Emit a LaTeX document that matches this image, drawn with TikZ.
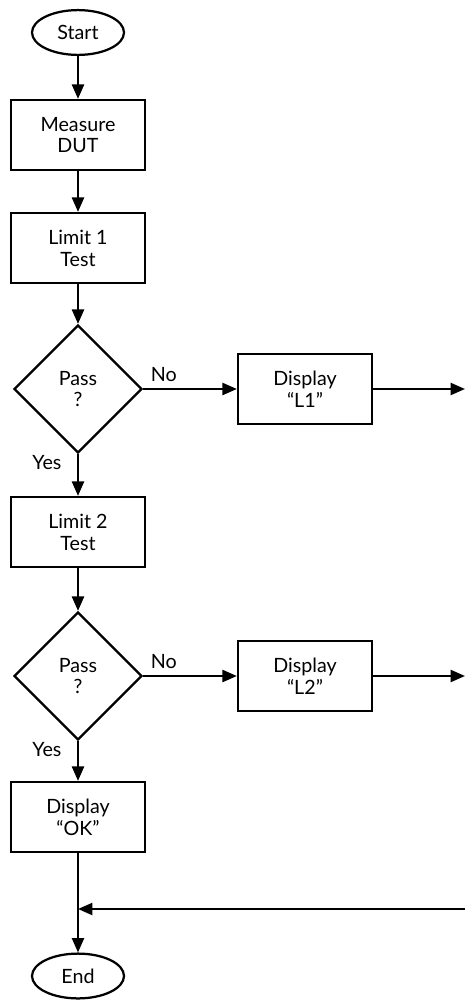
\documentclass[tikz,border=0pt]{standalone}
\usepackage{fontspec}
\setmainfont{Lato}
\usetikzlibrary{arrows.meta, positioning, shapes.geometric}

\begin{document}
\begin{tikzpicture}[x=0.025cm, y=-0.025cm, font=\fontsize{14}{15.6}\selectfont,
  s/.style={draw, line width=1.6pt, align=center, inner sep=0pt,
            minimum width=3.35cm, minimum height=1.75cm},
  term/.style={draw, ellipse, line width=1.6pt, inner sep=0pt,
            minimum width=2.3cm, minimum height=1.12cm},
  dec/.style={draw, diamond, aspect=1, line width=1.6pt, align=center, inner sep=0pt,
            minimum width=3.2cm, minimum height=3.2cm},
  a/.style={-{Triangle[length=3.6mm, width=3mm]}, line width=1.6pt, draw=black},
  lb/.style={inner sep=1pt}]
  \useasboundingbox (0,0) rectangle (465,1000);
  % ---- main column
  \node[term] (start) at (78,32.5) {Start};
  \node[s]    (meas)  at (78,135)  {Measure\\DUT};
  \node[s]    (lim1)  at (78,248)  {Limit 1\\Test};
  \node[dec]  (pass1) at (78,389)  {Pass\\?};
  \node[s]    (lim2)  at (78,532)  {Limit 2\\Test};
  \node[dec]  (pass2) at (78,676)  {Pass\\?};
  \node[s]    (ok)    at (78,817)  {Display\\“OK”};
  \node[term] (end)   at (78,976)  {End};
  % ---- failure branches
  \node[s] (disp1) at (305,389) {Display\\“L1”};
  \node[s] (disp2) at (305,676) {Display\\“L2”};
  \coordinate (out1) at (465,389);
  \coordinate (out2) at (465,676);
  \coordinate (back) at (465,909);
  % ---- connectors
  \draw[a] (start) -- (meas);
  \draw[a] (meas) -- (lim1);
  \draw[a] (lim1) -- (pass1);
  \draw[a] (pass1) -- node[lb, pos=0.2, left=0.35cm] {Yes} (lim2);
  \draw[a] (pass1) -- node[lb, pos=0.22, above=0.12cm] {No} (disp1);
  \draw[a] (disp1) -- (out1);
  \draw[a] (lim2) -- (pass2);
  \draw[a] (pass2) -- node[lb, pos=0.2, left=0.35cm] {Yes} (ok);
  \draw[a] (pass2) -- node[lb, pos=0.22, above=0.12cm] {No} (disp2);
  \draw[a] (disp2) -- (out2);
  \draw[a] (ok) -- (end);
  \draw[a] (back) -- (back -| ok.south);
\end{tikzpicture}
\end{document}
